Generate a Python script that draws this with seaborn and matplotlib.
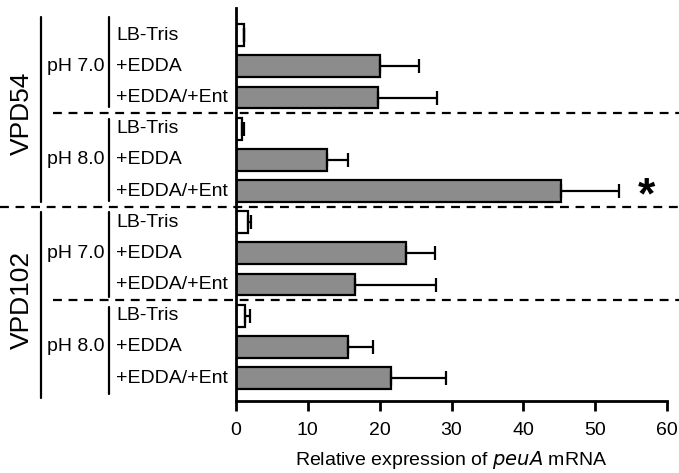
import pandas as pd
import numpy as np
import matplotlib
matplotlib.use('Agg')
import matplotlib.pyplot as plt
import matplotlib.transforms as mtransforms
import seaborn as sns

# data
strains = ['VPD54', 'VPD102']
ph_levels = ['pH 7.0', 'pH 8.0']
conditions = ['LB-Tris', '+EDDA', '+EDDA/+Ent']
means = [1.1, 20.0, 19.8, 0.8, 12.6, 45.3,
         1.6, 23.6, 16.6, 1.3, 15.6, 21.6]
errors = [0.0, 5.5, 8.2, 0.3, 3.0, 8.0,
          0.5, 4.1, 11.2, 0.7, 3.5, 7.6]

rows = []
i = 0
for s in strains:
    for p in ph_levels:
        for c in conditions:
            rows.append({'row': str(i), 'strain': s, 'ph': p, 'cond': c,
                         'value': means[i], 'err': errors[i],
                         'kind': 'ctrl' if c == 'LB-Tris' else 'trt'})
            i += 1
df = pd.DataFrame(rows)

sns.set_style('white', {'text.color': 'black', 'axes.labelcolor': 'black',
                        'xtick.color': 'black', 'ytick.color': 'black',
                        'axes.edgecolor': 'black'})
plt.rcParams['font.family'] = ['Liberation Sans', 'DejaVu Sans']

fig = plt.figure(figsize=(6.79, 4.73), dpi=100)
ax = fig.add_axes([0.3476, 0.152, 0.6347, 0.831])

sns.barplot(data=df, x='value', y='row', hue='kind',
            palette={'ctrl': 'white', 'trt': '#8c8c8c'}, dodge=False,
            edgecolor='black', linewidth=1.6, width=0.7, legend=False, ax=ax)

ypos = np.arange(len(df))
ax.errorbar(df['value'], ypos, xerr=[np.zeros(len(df)), df['err']],
            fmt='none', ecolor='black', elinewidth=1.6, capsize=5, capthick=1.6)

ax.set_xlim(0, 60)
ax.set_ylim(11.74, -0.87)
ax.set_xticks(range(0, 61, 10))
ax.set_yticks([])
ax.set_ylabel('')
ax.set_xlabel('Relative expression of $\\it{peuA}$ mRNA', fontsize=14, labelpad=7)
ax.tick_params(axis='x', direction='out', length=7, width=2, labelsize=14,
               pad=8, bottom=True, colors='black')
for side in ['top', 'right']:
    ax.spines[side].set_visible(False)
for side in ['left', 'bottom']:
    ax.spines[side].set_linewidth(2)
    ax.spines[side].set_color('black')

tr = mtransforms.blended_transform_factory(ax.transAxes, ax.transData)

# condition labels
for k, c in enumerate(df['cond']):
    ax.text(-0.278, k, c, transform=tr, ha='left', va='center', fontsize=14)

# pH labels and lines
ph_spans = [(-0.58, 2.31), (2.69, 5.32), (5.68, 8.4), (8.72, 11.5)]
for k, (y0, y1) in enumerate(ph_spans):
    ax.text(-0.306, 3 * k + 1, ph_levels[k % 2], transform=tr,
            ha='right', va='center', fontsize=14)
    ax.plot([-0.2947, -0.2947], [y0, y1], transform=tr, color='black',
            lw=1.6, clip_on=False)

# strain labels and lines
strain_spans = [(-0.58, 5.36), (5.68, 11.64)]
for k, (y0, y1) in enumerate(strain_spans):
    ax.text(-0.4965, 6 * k + 2.5, strains[k], transform=tr, rotation=90,
            ha='center', va='center', fontsize=19)
    ax.plot([-0.452, -0.452], [y0, y1], transform=tr, color='black',
            lw=1.6, clip_on=False)

# dashed separators
for y, x0 in [(2.5, -0.4246), (5.5, -0.5476), (8.5, -0.4246)]:
    ax.plot([x0, 1.028], [y, y], transform=tr, color='black', lw=1.6,
            ls=(0, (4, 3)), clip_on=False)

# significance marker
ax.text(57.2, 5.2, '*', fontsize=32, fontweight='bold', ha='center', va='center')

fig.savefig('out.png', dpi=100)
